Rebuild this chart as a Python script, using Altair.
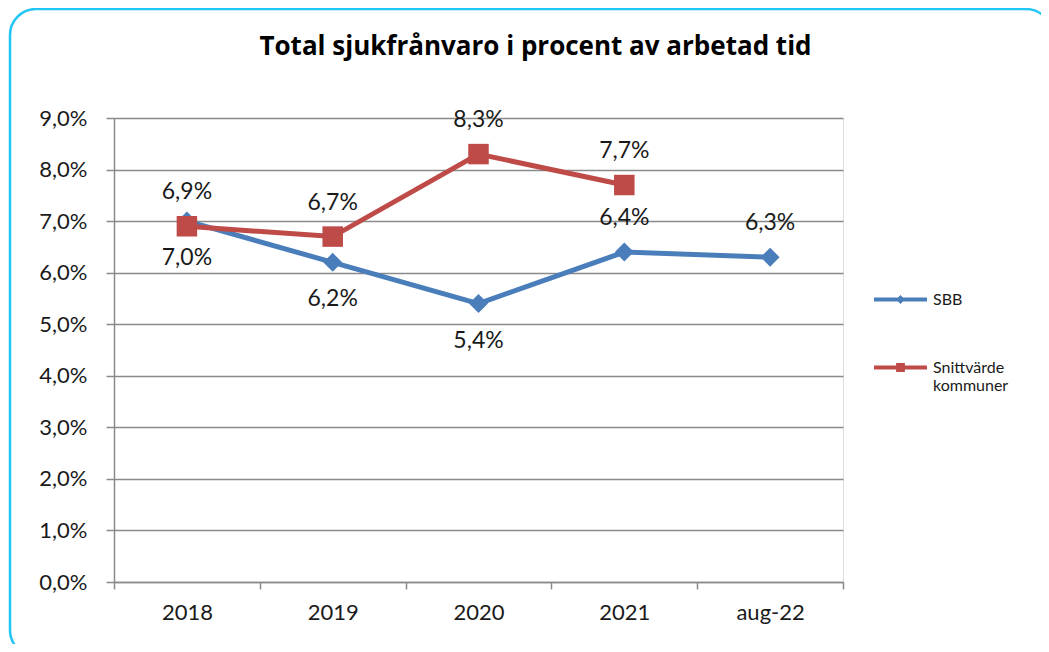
import altair as alt
import pandas as pd

categories = ["2018", "2019", "2020", "2021", "aug-22"]
sbb = [7.0, 6.2, 5.4, 6.4, 6.3]
kommuner = [6.9, 6.7, 8.3, 7.7, None]
sbb_label_side = ["below", "below", "below", "above", "above"]
kommuner_label_side = ["above", "above", "above", "above", None]
series_names = ["SBB", "Snittvärde kommuner"]
y_ticks = [0, 1, 2, 3, 4, 5, 6, 7, 8, 9]
title_text = "Total sjukfrånvaro i procent av arbetad tid"

BLUE = "#4A7EBB"
RED = "#BE4B48"
FONT = "Lato"
TXT = "#1a1a1a"
GRID = "#8a8a8a"

rows = []
for c, v, s in zip(categories, sbb, sbb_label_side):
    if v is not None:
        rows.append({"cat": c, "value": v, "series": series_names[0], "side": s})
for c, v, s in zip(categories, kommuner, kommuner_label_side):
    if v is not None:
        rows.append({"cat": c, "value": v, "series": series_names[1], "side": s})
df = pd.DataFrame(rows)

base = alt.Chart(df).transform_calculate(
    label="replace(format(datum.value, '.1f'), '.', ',') + '%'"
)

x_enc = alt.X(
    "cat:N",
    sort=categories,
    scale=alt.Scale(type="band", domain=categories, paddingInner=0, paddingOuter=0),
    axis=alt.Axis(
        title=None, labelAngle=0, labelFont=FONT, labelFontSize=22, labelColor=TXT,
        domainColor=GRID, domainWidth=1.5, tickColor=GRID, tickWidth=1.5, tickSize=7,
        tickBand="extent", labelPadding=13, grid=False,
    ),
)
y_enc = alt.Y(
    "value:Q",
    scale=alt.Scale(domain=[0, 9], nice=False, zero=True),
    axis=alt.Axis(
        title=None, values=y_ticks,
        labelExpr="replace(format(datum.value, '.1f'), '.', ',') + '%'",
        labelFont=FONT, labelFontSize=22, labelColor=TXT, labelPadding=19,
        domainColor=GRID, domainWidth=1.5, tickColor=GRID, tickWidth=1.5, tickSize=8,
        grid=True, gridColor=GRID, gridWidth=1.5,
    ),
)


def series_layers(name, colour, shape, size):
    sub = base.transform_filter(alt.datum.series == name)
    line = sub.mark_line(strokeWidth=5, color=colour).encode(x=x_enc, y=y_enc)
    pts = sub.mark_point(
        filled=True, shape=shape, size=size, opacity=1, color=colour
    ).encode(x=x_enc, y=y_enc)
    return line, pts


b_line, b_pts = series_layers(series_names[0], BLUE, "diamond", 360)
r_line, r_pts = series_layers(series_names[1], RED, "square", 420)

labels_above = base.transform_filter(alt.datum.side == "above").mark_text(
    font=FONT, fontSize=23, color=TXT, dy=-34, baseline="middle"
).encode(x=x_enc, y=y_enc, text="label:N")
labels_below = base.transform_filter(alt.datum.side == "below").mark_text(
    font=FONT, fontSize=23, color=TXT, dy=37, baseline="middle"
).encode(x=x_enc, y=y_enc, text="label:N")

legend_paths = [
    "M-1,0L1,0M0,-0.06L0.06,0L0,0.06L-0.06,0Z",
    "M-1,0L1,0M-0.09,-0.09L0.09,-0.09L0.09,0.09L-0.09,0.09Z",
]
leg = alt.Legend(
    orient="none", legendX=758, legendY=153, title=None,
    symbolSize=2809, symbolStrokeWidth=4, symbolOpacity=1,
    labelFont=FONT, labelFontSize=16, labelColor=TXT, labelOffset=4,
    rowPadding=29,
    labelExpr="datum.label == 'Snittvärde kommuner' ? ['Snittvärde', 'kommuner'] : datum.label",
)
legend_layer = base.transform_filter("datum.value < -100").mark_point(
    filled=False, opacity=1, strokeWidth=4
).encode(
    x=x_enc, y=y_enc,
    color=alt.Color("series:N", scale=alt.Scale(domain=series_names, range=[BLUE, RED]), legend=leg),
    shape=alt.Shape("series:N", scale=alt.Scale(domain=series_names, range=legend_paths), legend=leg),
)

frame = alt.Chart(pd.DataFrame({"f": [0]})).mark_rect(
    fill=None, stroke="#22C6F5", strokeWidth=2.5, cornerRadius=26
).encode(
    x=alt.value(-104), x2=alt.value(938), y=alt.value(-109), y2=alt.value(538)
)

chart = alt.layer(
    frame, b_line, b_pts, r_line, r_pts, labels_above, labels_below, legend_layer
).properties(
    width=729, height=464,
    title=alt.TitleParams(
        title_text, font="Open Sans", fontSize=26, fontWeight="bold", color="#000000",
        anchor="middle", dx=57, offset=-73, baseline="alphabetic",
    ),
    autosize=alt.AutoSizeParams(type="none"),
    padding={"left": 106, "top": 110, "right": 198, "bottom": 62},
).configure_view(stroke=None).configure(background="white")

chart.save("out.html", embed_options={"renderer": "svg", "actions": False})
